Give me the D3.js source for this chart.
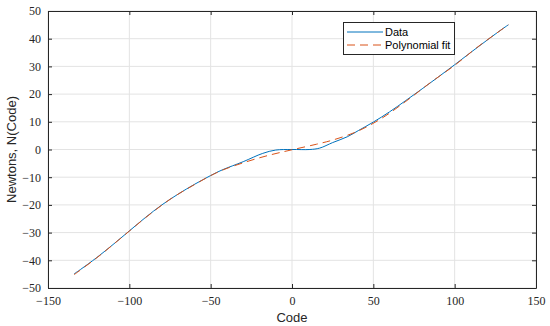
<!DOCTYPE html>
<html>
<head>
<meta charset="utf-8">
<script src="https://cdn.jsdelivr.net/npm/d3@7"></script>
<style>
body { margin: 0; background: #fff; }
.tick text { font-family: "Liberation Serif", serif; }
</style>
</head>
<body>
<div id="chartBox"></div>
<script>
// measured data
var dataX = [-134,-130,-120,-110,-100,-90,-80,-70,-60,-50,-43,-30,-18,-10,0,11,17,25,34,41,50,60,70,80,90,100,110,120,130,133];
var dataY = [-44.9,-43.3,-39.0,-34.3,-29.4,-24.5,-20.0,-16.1,-12.6,-9.4,-7.4,-4.4,-1.4,-0.2,0,0,0.5,2.5,4.6,6.9,9.9,13.6,17.7,21.9,26.2,30.6,35.1,39.5,43.8,45];
// polynomial fit
var fitX = [-134,-120,-105,-90,-75,-60,-45,-30,-15,0,15,25,40,55,70,85,100,115,133];
var fitY = [-45.2,-39.1,-31.9,-24.6,-18,-12.7,-8,-4.8,-2.2,-0.1,1.9,3.4,6.5,11.2,17.4,24.1,30.4,37.4,45];

var xTicks = [-150,-100,-50,0,50,100,150];
var yTicks = [-50,-40,-30,-20,-10,0,10,20,30,40,50];

function buildChart() {
    var width = 550, height = 326;
    var pLeft = 48, pRight = 536, pTop = 11, pBottom = 288;

    var svg = d3.select('#chartBox').append('svg')
        .attr('width', width)
        .attr('height', height);

    var x = d3.scaleLinear().domain([-150, 150]).range([pLeft, pRight]);
    var y = d3.scaleLinear().domain([-50, 50]).range([pBottom, pTop]);

    // grid
    svg.append('g').selectAll('line')
        .data(xTicks)
        .enter().append('line')
        .attr('x1', d => x(d)).attr('x2', d => x(d))
        .attr('y1', pTop).attr('y2', pBottom)
        .attr('stroke', '#e3e3e3');
    svg.append('g').selectAll('line')
        .data(yTicks)
        .enter().append('line')
        .attr('y1', d => y(d)).attr('y2', d => y(d))
        .attr('x1', pLeft).attr('x2', pRight)
        .attr('stroke', '#e3e3e3');

    var fmt = function(d) { return d < 0 ? '\u2212' + Math.abs(d) : '' + d; };

    var axisStyle = function(g) {
        g.select('.domain').attr('stroke', '#262626');
        g.selectAll('.tick line').attr('stroke', '#262626');
        g.selectAll('.tick text').attr('fill', '#262626').style('font-size', '12px');
    };

    svg.append('g')
        .attr('transform', 'translate(0,' + pBottom + ')')
        .call(d3.axisBottom(x).tickValues(xTicks).tickFormat(fmt).tickSizeInner(-4).tickSizeOuter(0).tickPadding(8))
        .call(axisStyle);
    svg.append('g')
        .attr('transform', 'translate(0,' + pTop + ')')
        .call(d3.axisTop(x).tickValues(xTicks).tickFormat('').tickSizeInner(-4).tickSizeOuter(0))
        .call(axisStyle);
    svg.append('g')
        .attr('transform', 'translate(' + pLeft + ',0)')
        .call(d3.axisLeft(y).tickValues(yTicks).tickFormat(fmt).tickSizeInner(-4).tickSizeOuter(0).tickPadding(7))
        .call(axisStyle);
    svg.append('g')
        .attr('transform', 'translate(' + pRight + ',0)')
        .call(d3.axisRight(y).tickValues(yTicks).tickFormat('').tickSizeInner(-4).tickSizeOuter(0))
        .call(axisStyle);

    // lines
    var line = d3.line()
        .x(d => x(d[0]))
        .y(d => y(d[1]))
        .curve(d3.curveCatmullRom.alpha(0.5));

    svg.append('path')
        .datum(dataX.map((v, i) => [v, dataY[i]]))
        .attr('d', line)
        .attr('fill', 'none')
        .attr('stroke', '#0072BD')
        .attr('stroke-width', 1);

    svg.append('path')
        .datum(fitX.map((v, i) => [v, fitY[i]]))
        .attr('d', line)
        .attr('fill', 'none')
        .attr('stroke', '#D95319')
        .attr('stroke-width', 1)
        .attr('stroke-dasharray', '8,5');

    // axis labels
    svg.append('text')
        .text('Code')
        .attr('x', x(0))
        .attr('y', 322)
        .attr('text-anchor', 'middle')
        .attr('fill', '#262626')
        .style('font-family', 'Liberation Sans, Arial, sans-serif')
        .style('font-size', '13px');

    svg.append('text')
        .text('Newtons, N(Code)')
        .attr('transform', 'translate(16,' + y(0) + ') rotate(-90)')
        .attr('text-anchor', 'middle')
        .attr('fill', '#262626')
        .style('font-family', 'Liberation Sans, Arial, sans-serif')
        .style('font-size', '13px');

    // legend
    var legend = svg.append('g');
    legend.append('rect')
        .attr('x', 343.5).attr('y', 22.5)
        .attr('width', 111).attr('height', 32)
        .attr('fill', '#fff')
        .attr('stroke', '#262626')
        .attr('stroke-width', 1);
    var items = [['Data', '#0072BD', null], ['Polynomial fit', '#D95319', '8,5']];
    items.forEach(function(it, i) {
        var yy = 32 + i * 13;
        legend.append('line')
            .attr('x1', 347).attr('x2', 383)
            .attr('y1', yy).attr('y2', yy)
            .attr('stroke', it[1])
            .attr('stroke-width', 1)
            .attr('stroke-dasharray', it[2]);
        legend.append('text')
            .text(it[0])
            .attr('x', 385).attr('y', yy + 4)
            .attr('fill', '#000')
            .style('font-family', 'Liberation Sans, Arial, sans-serif')
            .style('font-size', '11px');
    });
}

buildChart();
</script>
</body>
</html>
